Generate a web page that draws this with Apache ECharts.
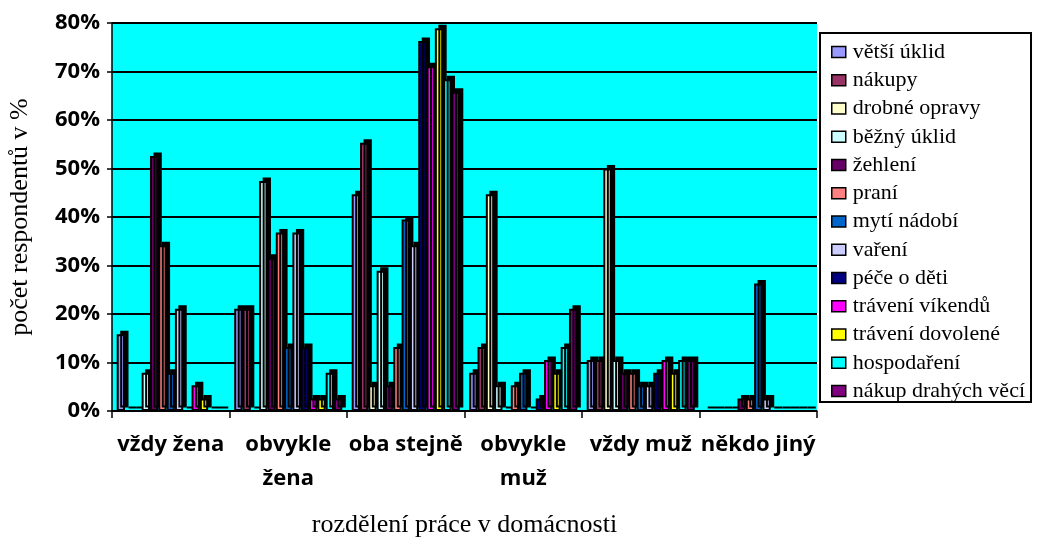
<!DOCTYPE html>
<html>
<head>
<meta charset="utf-8">
<script src="https://cdn.jsdelivr.net/npm/echarts@6/dist/echarts.min.js"></script>
<style>
  html, body { margin: 0; padding: 0; background: #fff; }
  #chart-container { width: 1041px; height: 538px; }
</style>
</head>
<body>
<div id="chart-container"></div>
<script>
// kategorie (osa x)
const categories = ['vždy žena', 'obvykle\nžena', 'oba stejně', 'obvykle\nmuž', 'vždy muž', 'někdo jiný'];
const yTicks = [0, 10, 20, 30, 40, 50, 60, 70, 80];

// hodnoty v % pro jednotlivé činnosti
const vetsiUklid   = [15.8, 21.1, 44.7, 7.9, 10.5, 0];
const nakupy       = [0, 21.1, 55.3, 13.2, 10.5, 0];
const drobneOpravy = [0, 0, 5.3, 44.7, 50.0, 0];
const beznyUklid   = [7.9, 47.4, 28.9, 5.3, 10.5, 0];
const zehleni      = [52.6, 31.6, 5.3, 0, 7.9, 2.6];
const prani        = [34.2, 36.8, 13.2, 5.3, 7.9, 2.6];
const mytiNadobi   = [7.9, 13.2, 39.5, 7.9, 5.3, 26.3];
const vareni       = [21.1, 36.8, 34.2, 0, 5.3, 2.6];
const peceODeti    = [0, 13.2, 76.3, 2.6, 7.9, 0];
const vikendy      = [5.3, 2.6, 71.1, 10.5, 10.5, 0];
const dovolena     = [2.6, 2.6, 78.9, 7.9, 7.9, 0];
const hospodareni  = [0, 7.9, 68.4, 13.2, 10.5, 0];
const draheVeci    = [0, 2.6, 65.8, 21.1, 10.5, 0];

const seriesNames = ['větší úklid', 'nákupy', 'drobné opravy', 'běžný úklid', 'žehlení', 'praní',
  'mytí nádobí', 'vaření', 'péče o děti', 'trávení víkendů', 'trávení dovolené', 'hospodaření', 'nákup drahých věcí'];
const seriesData = [vetsiUklid, nakupy, drobneOpravy, beznyUklid, zehleni, prani,
  mytiNadobi, vareni, peceODeti, vikendy, dovolena, hospodareni, draheVeci];
const colors = ['#9999FF', '#993366', '#FFFFCC', '#CCFFFF', '#660066', '#FF8080',
  '#0066CC', '#CCCCFF', '#000080', '#FF00FF', '#FFFF00', '#00FFFF', '#800080'];

var dom = document.getElementById('chart-container');
var myChart = echarts.init(dom, null, { renderer: 'canvas' });

const sansBold = { fontFamily: 'Open Sans', fontWeight: 'bold', color: '#000' };
const serif = { fontFamily: 'Liberation Serif', color: '#000' };

var option = {
  animation: false,
  color: colors,
  grid: {
    left: 112, right: 224, top: 23, bottom: 127,
    outerBoundsMode: 'none',
    show: true, backgroundColor: '#00FFFF', borderWidth: 0
  },
  legend: {
    orient: 'vertical',
    left: 820, top: 33,
    padding: [8, 6, 0, 11],
    backgroundColor: '#fff',
    borderColor: '#000',
    borderWidth: 2,
    itemWidth: 14, itemHeight: 11,
    itemGap: 6.25,
    icon: 'rect',
    itemStyle: { borderColor: '#000', borderWidth: 1.5 },
    textStyle: Object.assign({ fontSize: 22, padding: [0, 0, 0, 2] }, serif),
    data: seriesNames
  },
  xAxis: {
    type: 'category',
    data: categories,
    name: 'rozdělení práce v domácnosti',
    nameLocation: 'middle',
    nameGap: 101,
    nameTextStyle: Object.assign({ fontSize: 26 }, serif),
    axisLine: { lineStyle: { color: '#000', width: 1.5 } },
    axisTick: { show: true, length: 7, lineStyle: { color: '#000', width: 1.5 } },
    axisLabel: Object.assign({ fontSize: 22, lineHeight: 34, margin: 17, interval: 0 }, sansBold)
  },
  yAxis: {
    type: 'value',
    min: yTicks[0], max: yTicks[yTicks.length - 1], interval: 10,
    name: 'počet respondentů v %',
    nameLocation: 'middle',
    nameGap: 79,
    nameTextStyle: Object.assign({ fontSize: 26 }, serif),
    axisLine: { show: true, lineStyle: { color: '#000', width: 1.5 } },
    axisTick: { show: true, length: 5, lineStyle: { color: '#000', width: 1.5 } },
    axisLabel: Object.assign({ fontSize: 22, margin: 12, formatter: '{value}%' }, sansBold),
    splitLine: { lineStyle: { color: '#000', width: 2 } }
  },
  series: seriesNames.map(function (name, i) {
    return {
      name: name,
      type: 'bar',
      barGap: 0,
      barCategoryGap: '8%',
      data: seriesData[i],
      itemStyle: {
        borderColor: '#000',
        borderWidth: 2,
        shadowColor: '#000',
        shadowBlur: 0,
        shadowOffsetX: 3.5,
        shadowOffsetY: -3.5
      }
    };
  })
};

myChart.setOption(option);
</script>
</body>
</html>
